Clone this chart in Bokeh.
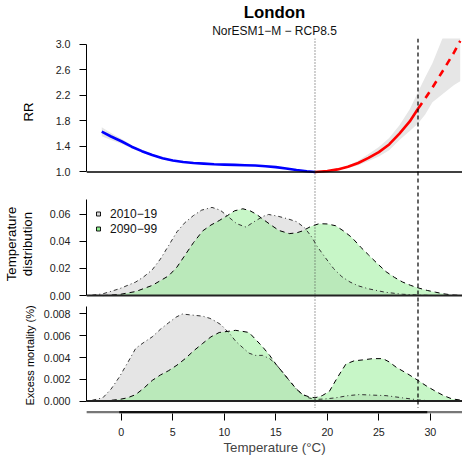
from bokeh.plotting import figure
from bokeh.models import Range1d, Span, Title, Legend, LegendItem, FixedTicker, NumeralTickFormatter
from bokeh.layouts import column
from bokeh.embed import file_html
from bokeh.resources import INLINE

# ---------------- data ----------------
# relative risk curve (cold part, warm part, extrapolated part)
rr_temp_cold = [-1.9, -1.0, 0.0, 1.0, 2.0, 3.0, 4.0, 5.0, 6.0, 7.0, 8.0, 9.0, 10.0,
                11.0, 12.0, 13.0, 14.0, 15.0, 16.0, 17.0, 18.0, 18.8]
rr_cold = [1.63, 1.555, 1.48, 1.395, 1.325, 1.265, 1.215, 1.18, 1.155, 1.14, 1.13, 1.12,
           1.115, 1.11, 1.105, 1.10, 1.09, 1.075, 1.055, 1.03, 1.01, 1.0]
rr_cold_lo = [1.56, 1.50, 1.44, 1.37, 1.305, 1.25, 1.20, 1.168, 1.145, 1.132, 1.123, 1.114,
              1.109, 1.105, 1.10, 1.095, 1.086, 1.071, 1.052, 1.028, 1.009, 1.0]
rr_cold_hi = [1.70, 1.61, 1.52, 1.42, 1.345, 1.28, 1.23, 1.192, 1.165, 1.148, 1.137, 1.126,
              1.121, 1.115, 1.11, 1.105, 1.094, 1.079, 1.058, 1.032, 1.011, 1.0]

rr_temp_warm = [18.8, 20.0, 21.0, 22.0, 23.0, 24.0, 25.0, 26.0, 27.0, 28.0, 28.8]
rr_warm = [1.0, 1.015, 1.04, 1.08, 1.14, 1.22, 1.31, 1.43, 1.60, 1.79, 1.99]
rr_warm_lo = [1.0, 1.01, 1.03, 1.06, 1.105, 1.17, 1.24, 1.34, 1.50, 1.64, 1.76]
rr_warm_hi = [1.0, 1.02, 1.05, 1.10, 1.175, 1.28, 1.39, 1.53, 1.73, 1.98, 2.25]

rr_temp_ext = [28.8, 29.5, 30.2, 31.2, 32.3, 32.9]
rr_ext = [1.99, 2.15, 2.32, 2.58, 2.87, 3.05]
rr_ext_lo = [1.76, 1.90, 2.09, 2.22, 2.36, 2.42]
rr_ext_hi = [2.25, 2.48, 2.70, 3.10, 3.60, 3.85]

mmt = 18.8          # minimum mortality temperature (dotted line)
heat_thr = 28.8     # extrapolation threshold (dashed line)

# temperature distributions
dist_temp_a = [-3.2, -1.8, -0.2, 1.4, 2.2, 3.0, 3.8, 4.6, 5.4, 6.2, 7.0, 7.8, 8.8, 9.6, 10.4,
               11.2, 12.1, 13.0, 13.8, 14.3, 15.2, 16.2, 17.0, 17.8, 18.5, 19.0, 19.8, 20.6,
               21.4, 22.2, 23.0, 24.0, 25.6, 27.3, 28.9, 30.5]
dist_a = [0.0, 0.0013, 0.005, 0.010, 0.014, 0.019, 0.027, 0.037, 0.047, 0.054, 0.059, 0.063,
          0.065, 0.063, 0.058, 0.053, 0.0505, 0.055, 0.0585, 0.0598, 0.0585, 0.0565, 0.0545,
          0.050, 0.043, 0.0364, 0.028, 0.020, 0.014, 0.010, 0.0072, 0.005, 0.0025, 0.001,
          0.0004, 0.0]
dist_temp_b = [-1.8, -0.2, 1.4, 3.0, 4.6, 5.4, 6.2, 7.0, 7.9, 8.7, 9.5, 10.3, 11.0, 11.8, 12.5,
               13.1, 13.8, 14.4, 15.3, 16.3, 17.0, 17.6, 18.4, 19.2, 20.0, 20.8, 21.6, 22.4,
               23.2, 24.0, 24.8, 25.7, 26.5, 27.3, 28.1, 28.9, 29.7, 30.5, 31.3, 32.1, 33.3]
dist_b = [0.0, 0.0008, 0.003, 0.0075, 0.0146, 0.021, 0.030, 0.039, 0.0477, 0.052, 0.0553,
          0.059, 0.0625, 0.064, 0.0625, 0.060, 0.056, 0.0527, 0.048, 0.0457, 0.0462, 0.0477,
          0.051, 0.053, 0.0528, 0.0515, 0.0475, 0.0427, 0.036, 0.030, 0.024, 0.0176, 0.0135,
          0.010, 0.0075, 0.0055, 0.0038, 0.0025, 0.0013, 0.0005, 0.0]

# excess mortality
em_temp_a = [-3.2, -1.8, -1.0, -0.2, 0.6, 1.4, 2.2, 3.0, 3.8, 4.6, 5.3, 5.9, 6.9, 7.9, 8.6,
             9.2, 9.7, 10.1, 10.6, 11.1, 11.8, 12.4, 13.0, 13.7, 14.4, 15.0, 15.7, 16.3, 17.0,
             17.6, 18.2, 18.8, 19.8, 20.8, 22.0, 23.1, 24.4, 25.7, 27.3, 28.9, 30.5]
em_a = [0.0, 0.0003, 0.0011, 0.0022, 0.0035, 0.00485, 0.0054, 0.0059, 0.0066, 0.0072, 0.0077,
        0.0080, 0.0079, 0.0078, 0.0076, 0.0073, 0.0070, 0.0066, 0.0061, 0.0055, 0.0049, 0.0044,
        0.0042, 0.0042, 0.0039, 0.0034, 0.0026, 0.0019, 0.0011, 0.0006, 0.0003, 0.00015,
        0.0002, 0.0003, 0.0005, 0.0006, 0.00055, 0.0005, 0.0003, 0.0001, 0.0]
em_temp_b = [-1.8, -0.2, 0.6, 1.4, 2.2, 3.0, 3.8, 4.6, 5.4, 6.2, 7.0, 7.9, 8.7, 9.5, 10.3, 11.1,
             11.8, 12.4, 13.0, 13.7, 14.4, 15.0, 15.7, 16.3, 17.0, 17.6, 18.2, 18.8, 19.5, 20.2,
             21.0, 21.8, 22.6, 23.4, 24.4, 25.4, 26.0, 26.7, 27.8, 28.8, 29.6, 30.5, 31.3, 32.1,
             33.3]
em_b = [0.0, 0.00015, 0.0003, 0.0006, 0.0012, 0.0019, 0.0024, 0.0028, 0.0033, 0.0039, 0.0046,
        0.0053, 0.0059, 0.0063, 0.0064, 0.0065, 0.0064, 0.0063, 0.0057, 0.0050, 0.0042, 0.0034,
        0.0026, 0.0019, 0.0011, 0.0006, 0.0004, 0.0003, 0.0005, 0.0009, 0.0022, 0.0034, 0.0037,
        0.00378, 0.0039, 0.0039, 0.0036, 0.0031, 0.0025, 0.0019, 0.0014, 0.0009, 0.0005,
        0.0002, 0.00005]

period_labels = ["2010\u221219", "2090\u221299"]

# observed temperature rug (sparse outer range, dense inner range)
rug_sparse = [-3.4, 33.3]
rug_dense = [-0.2, 29.7]

rr_ticks = [1.0, 1.4, 1.8, 2.2, 2.6, 3.0]
dist_ticks = [0.0, 0.02, 0.04, 0.06]
em_ticks = [0.0, 0.002, 0.004, 0.006, 0.008]
temp_ticks = [0, 5, 10, 15, 20, 25, 30]

# ---------------- styling helpers ----------------
FONT = "Liberation Sans"
W = 462
LB = 78
TICK_FS = "10.7px"
LABEL_FS = "13.3px"
xr = Range1d(-3.38, 33.12)


def base_fig(height, yr, top=0, bottom=0, x_axis="below", y_axis="left"):
    p = figure(width=W, height=height, x_range=xr, y_range=yr, title=None,
               output_backend="svg", toolbar_location=None,
               x_axis_location=x_axis, y_axis_location=y_axis,
               min_border_left=LB, min_border_right=0,
               min_border_top=top, min_border_bottom=bottom)
    p.outline_line_color = None
    p.xgrid.visible = False
    p.ygrid.visible = False
    p.background_fill_color = "white"
    p.border_fill_color = "white"
    return p


def style_yaxis(ax, ticks, fmt, bounds, label, standoff, label_size=LABEL_FS):
    ax.ticker = FixedTicker(ticks=ticks)
    ax.formatter = NumeralTickFormatter(format=fmt)
    ax.bounds = bounds
    ax.minor_tick_line_color = None
    ax.major_tick_out = 7
    ax.major_tick_in = 0
    ax.major_tick_line_color = "black"
    ax.axis_line_color = "black"
    ax.major_label_standoff = 9
    ax.major_label_text_font = FONT
    ax.major_label_text_font_size = TICK_FS
    ax.major_label_text_color = "#222222"
    ax.axis_label = label
    ax.axis_label_text_font = FONT
    ax.axis_label_text_font_size = label_size
    ax.axis_label_text_font_style = "normal"
    ax.axis_label_text_color = "black"
    ax.axis_label_standoff = standoff


def vlines(p):
    p.add_layout(Span(location=mmt, dimension="height", line_color="#444444",
                      line_dash="1 2", line_width=1))
    p.add_layout(Span(location=heat_thr, dimension="height", line_color="black",
                      line_dash="4 3", line_width=1.2))


# ---------------- top panel: RR ----------------
p1 = base_fig(185, Range1d(0.788, 3.088), top=31, x_axis=None)
style_yaxis(p1.yaxis[0], rr_ticks, "0.0", (1.0, 3.0), "RR", 17)
p1.varea(x=rr_temp_cold, y1=rr_cold_lo, y2=rr_cold_hi, fill_color="#e6e6e6")
p1.varea(x=rr_temp_warm, y1=rr_warm_lo, y2=rr_warm_hi, fill_color="#e6e6e6")
p1.varea(x=rr_temp_ext, y1=rr_ext_lo, y2=rr_ext_hi, fill_color="#e6e6e6")
p1.add_layout(Span(location=1.0, dimension="width", line_color="black", line_width=1.5))
vlines(p1)
p1.line(rr_temp_cold, rr_cold, line_color="#0000ff", line_width=2.6)
p1.line(rr_temp_warm, rr_warm, line_color="#ff0000", line_width=2.6)
p1.line(rr_temp_ext, rr_ext, line_color="#ff0000", line_width=2.6, line_dash="7 6")
p1.add_layout(Title(text="NorESM1\u2212M \u2212 RCP8.5", align="center", text_font=FONT,
                    text_font_size="12px", text_font_style="normal", standoff=1, offset=6,
                    text_color="#111111"), "above")
p1.add_layout(Title(text="London", align="center", text_font=FONT, text_font_size="16.8px",
                    text_font_style="bold", standoff=0, offset=6, text_color="black"), "above")

# ---------------- middle panel: temperature distribution ----------------
p2 = base_fig(117, Range1d(-0.00509, 0.08115), x_axis=None)
style_yaxis(p2.yaxis[0], dist_ticks, "0.00", (0.0, 0.0705), "Temperature\ndistribution", 12)
p2.yaxis[0].axis_label_text_line_height = 1.05
p2.varea(x=dist_temp_a, y1=0, y2=dist_a, fill_color="#e5e5e5")
p2.varea(x=dist_temp_b, y1=0, y2=dist_b, fill_color="#90ee90", fill_alpha=0.5)
p2.add_layout(Span(location=0.0, dimension="width", line_color="#222222", line_width=2))
vlines(p2)
p2.line(dist_temp_a, dist_a, line_color="#333333", line_width=1, line_dash="1 3 4 3")
p2.line(dist_temp_b, dist_b, line_color="black", line_width=1, line_dash="5 4")
# legend keys (single points placed outside the visible range)
leg_a = p2.scatter([-50], [-1], marker="square", size=6.5, fill_color="#d9d9d9",
                   line_color="black", line_width=0.9)
leg_b = p2.scatter([-50], [-1], marker="square", size=6.5, fill_color="#90ee90",
                   line_color="black", line_width=0.9)
legend = Legend(items=[LegendItem(label=period_labels[0], renderers=[leg_a]),
                       LegendItem(label=period_labels[1], renderers=[leg_b])],
                location=(7, 66), border_line_color=None, background_fill_alpha=0,
                padding=0, margin=0, spacing=0, glyph_width=10, glyph_height=15,
                label_height=15, label_standoff=7, label_text_font=FONT,
                label_text_font_size="12px", label_text_color="#111111")
p2.add_layout(legend)

# ---------------- lower panel: excess mortality ----------------
p3 = base_fig(106, Range1d(-0.00068, 0.009056), x_axis=None)
style_yaxis(p3.yaxis[0], em_ticks, "0.000", (0.0, 0.0087), "Excess mortality (%)", 5,
            label_size="11px")
p3.varea(x=em_temp_a, y1=0, y2=em_a, fill_color="#e5e5e5")
p3.varea(x=em_temp_b, y1=0, y2=em_b, fill_color="#90ee90", fill_alpha=0.5)
p3.add_layout(Span(location=0.0, dimension="width", line_color="#222222", line_width=2))
vlines(p3)
p3.line(em_temp_a, em_a, line_color="#333333", line_width=1, line_dash="1 3 4 3")
p3.line(em_temp_b, em_b, line_color="black", line_width=1, line_dash="5 4")

# ---------------- x axis strip with rug ----------------
p4 = base_fig(49, Range1d(0, 1), bottom=44, y_axis=None)
p4.line(rug_sparse, [0.25, 0.25], line_color="#777777", line_width=2.5)
p4.line(rug_dense, [0.25, 0.25], line_color="#111111", line_width=2.5)
xa = p4.xaxis[0]
xa.ticker = FixedTicker(ticks=temp_ticks)
xa.axis_line_color = None
xa.minor_tick_line_color = None
xa.major_tick_out = 7
xa.major_tick_in = 0
xa.major_tick_line_color = "black"
xa.major_label_standoff = 7
xa.major_label_text_font = FONT
xa.major_label_text_font_size = TICK_FS
xa.major_label_text_color = "#222222"
xa.axis_label = "Temperature (\u00b0C)"
xa.axis_label_text_font = FONT
xa.axis_label_text_font_size = LABEL_FS
xa.axis_label_text_font_style = "normal"
xa.axis_label_standoff = 1

layout = column(p1, p2, p3, p4, spacing=0)
open("out.html", "w").write(file_html(layout, INLINE))
